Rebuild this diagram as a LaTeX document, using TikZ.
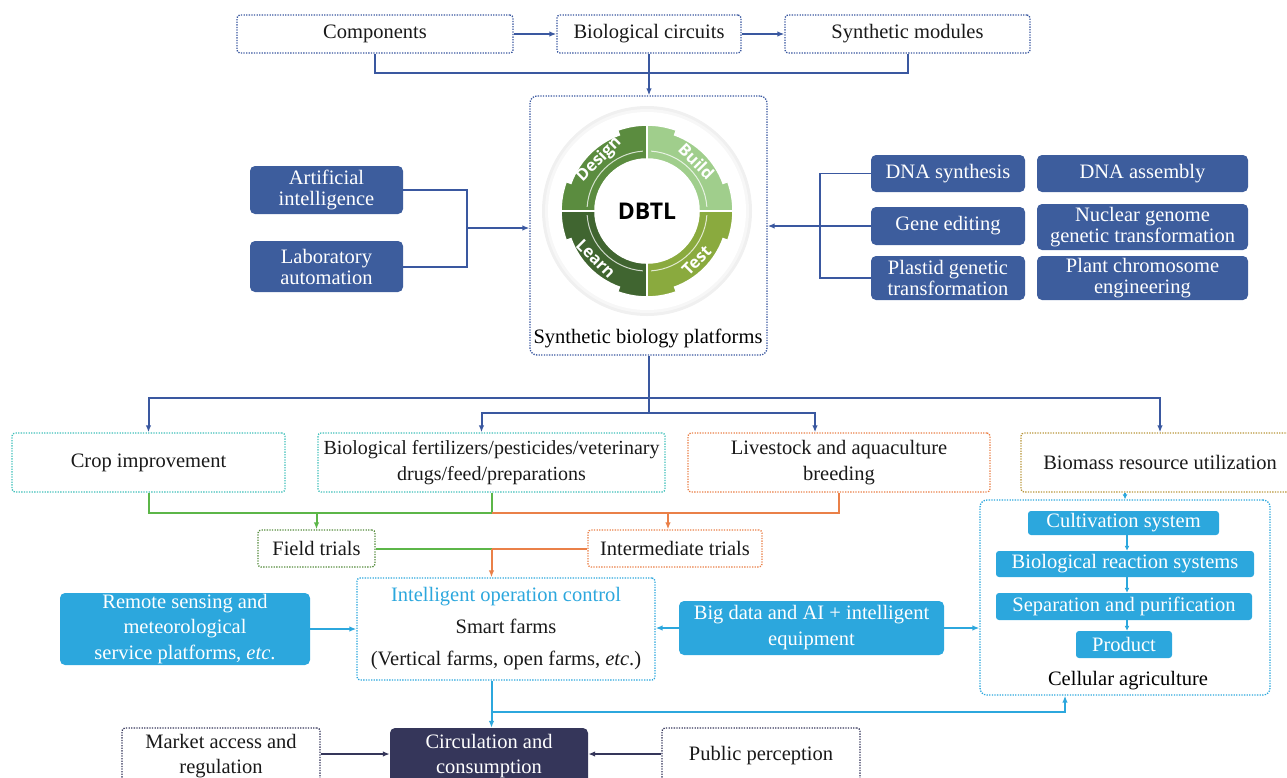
\documentclass[tikz,border=0pt]{standalone}
\usepackage{fontspec}
\setmainfont{Liberation Serif}
\setsansfont{Open Sans}
\usetikzlibrary{arrows.meta,calc}
\definecolor{lnblue}{RGB}{58,88,160}
\definecolor{fblue}{RGB}{61,93,157}
\definecolor{lblue}{RGB}{44,167,221}
\definecolor{cteal}{RGB}{64,192,186}
\definecolor{corange}{RGB}{234,128,72}
\definecolor{colive}{RGB}{184,150,60}
\definecolor{cgreen}{RGB}{92,182,72}
\definecolor{cfield}{RGB}{86,140,62}
\definecolor{cnavy}{RGB}{53,54,90}
\definecolor{dsg}{RGB}{91,140,63}
\definecolor{bdg}{RGB}{160,206,140}
\definecolor{lrn}{RGB}{64,101,48}
\definecolor{tst}{RGB}{138,170,62}
\definecolor{txt}{RGB}{25,25,25}
\tikzset{
  dbox/.style={draw=#1, line width=1.3pt, dash pattern=on 1.3pt off 1.3pt, rounded corners=3pt, text=txt, align=center, inner sep=0pt},
  fbox/.style={fill=#1, rounded corners=5pt, text=white, align=center, inner sep=0pt},
  ln/.style={draw=#1, line width=2pt},
  ar/.style={-{Latex[length=7pt,width=5.5pt]}},
  sar/.style={-{Latex[length=5pt,width=5pt]}},
  seglbl/.style={font=\sffamily\bfseries\fontsize{16.5}{16.5}\selectfont, text=white, inner sep=0pt},
  every node/.style={font=\fontsize{20.5}{22}\selectfont}
}
\newcommand{\dseg}[2]{%
  \fill[#2, draw=white, line width=1.6pt]
    ($(C)+(#1:52pt)$) -- ($(C)+(#1:86pt)$)
    arc[start angle=#1, end angle=#1+20, radius=86pt]
    -- ($(C)+(#1+20:81pt)$)
    arc[start angle=#1+20, end angle=#1+70, radius=81pt]
    -- ($(C)+(#1+70:86pt)$)
    arc[start angle=#1+70, end angle=#1+90, radius=86pt]
    -- ($(C)+(#1+90:52pt)$)
    arc[start angle=#1+90, end angle=#1, radius=52pt] -- cycle;
  \draw[white, opacity=0.75, line width=1pt] ($(C)+(#1+4:60pt)$) arc[start angle=#1+4, end angle=#1+86, radius=60pt];
}
\begin{document}
\begin{tikzpicture}[x=1pt,y=1pt]
\useasboundingbox (0,0) rectangle (1287,-777);
\clip (0,0) rectangle (1287,-777);

% ---------- top row ----------
\node[dbox=lnblue, minimum width=276pt, minimum height=38pt] (comp) at (375,-34) {Components};
\node[dbox=lnblue, minimum width=184pt, minimum height=38pt] (bc) at (649,-34) {Biological circuits};
\node[dbox=lnblue, minimum width=245pt, minimum height=38pt] (sm) at (907.5,-34) {Synthetic modules};

% ---------- platform ----------
\node[dbox=lnblue, rounded corners=7pt, minimum width=237pt, minimum height=259pt] (plat) at (648.5,-225.5) {};
\node (platlbl) at (648,-338) {Synthetic biology platforms};

\coordinate (C) at (647,-211);
\fill[black!6] (C) circle (105pt);
\fill[black!3] (C) circle (102pt);
\fill[white] (C) circle (99pt);
\dseg{0}{bdg}
\dseg{90}{dsg}
\dseg{180}{lrn}
\dseg{270}{tst}
\node[font=\sffamily\bfseries\fontsize{23}{23}\selectfont, text=black] (dbtl) at (C) {DBTL};
\node[seglbl, rotate=45] (ldes) at ($(C)+(133:70pt)$) {Design};
\node[seglbl, rotate=-45] (lbui) at ($(C)+(45:70pt)$) {Build};
\node[seglbl, rotate=-45] (llea) at ($(C)+(223:70pt)$) {Learn};
\node[seglbl, rotate=45] (ltes) at ($(C)+(315:70pt)$) {Test};

% ---------- left inputs ----------
\node[fbox=fblue, minimum width=153pt, minimum height=48pt, font=\fontsize{20.5}{21}\selectfont] (ai) at (326.5,-190) {Artificial\\intelligence};
\node[fbox=fblue, minimum width=153pt, minimum height=51pt, font=\fontsize{20.5}{21}\selectfont] (lab) at (326.5,-266.5) {Laboratory\\automation};

% ---------- right inputs ----------
\node[fbox=fblue, minimum width=154pt, minimum height=37pt] (dnas) at (948,-173.5) {DNA synthesis};
\node[fbox=fblue, minimum width=211pt, minimum height=37pt] (dnaa) at (1142.5,-173.5) {DNA assembly};
\node[fbox=fblue, minimum width=154pt, minimum height=38pt] (gene) at (948,-226) {Gene editing};
\node[fbox=fblue, minimum width=211pt, minimum height=46pt, font=\fontsize{20.5}{21}\selectfont] (nuc) at (1142.5,-227) {Nuclear genome\\genetic transformation};
\node[fbox=fblue, minimum width=154pt, minimum height=44pt, font=\fontsize{20.5}{21}\selectfont] (plas) at (948,-278) {Plastid genetic\\transformation};
\node[fbox=fblue, minimum width=211pt, minimum height=44pt, font=\fontsize{20.5}{21}\selectfont] (pce) at (1142.5,-278) {Plant chromosome\\engineering};

% ---------- application row ----------
\node[dbox=cteal, minimum width=273pt, minimum height=59pt] (crop) at (148.5,-462.5) {Crop improvement};
\node[dbox=cteal, minimum width=347pt, minimum height=59pt, font=\fontsize{20}{26}\selectfont] (bio) at (491.5,-462.5) {Biological fertilizers/pesticides/veterinary\\drugs/feed/preparations};
\node[dbox=corange, minimum width=302pt, minimum height=59pt, font=\fontsize{20.5}{26}\selectfont] (liv) at (839,-462.5) {Livestock and aquaculture\\breeding};
\node[dbox=colive, minimum width=278pt, minimum height=59pt] (biom) at (1160,-462.5) {Biomass resource utilization};

\node[dbox=cfield, minimum width=117pt, minimum height=37pt] (field) at (316.5,-548.5) {Field trials};
\node[dbox=corange, minimum width=174pt, minimum height=37pt] (inter) at (675,-548.5) {Intermediate trials};

% ---------- smart farms ----------
\node[dbox=lblue, minimum width=298pt, minimum height=102pt, font=\fontsize{20.5}{32}\selectfont] (smart) at (506,-629)
  {{\color{lblue}Intelligent operation control}\\Smart farms\\(Vertical farms, open farms, \textit{etc}.)};
\node[fbox=lblue, minimum width=250pt, minimum height=72pt, font=\fontsize{20.5}{25.5}\selectfont] (rem) at (185,-629)
  {Remote sensing and\\meteorological\\service platforms, \textit{etc}.};
\node[fbox=lblue, minimum width=265pt, minimum height=54pt, font=\fontsize{20.5}{26}\selectfont] (big) at (811.5,-628)
  {Big data and AI + intelligent\\equipment};

% ---------- cellular agriculture ----------
\node[dbox=lblue, rounded corners=7pt, minimum width=290pt, minimum height=195pt] (cell) at (1125,-597.5) {};
\node[fbox=lblue, rounded corners=3pt, minimum width=191pt, minimum height=24pt] (cult) at (1123.5,-523) {Cultivation system};
\node[fbox=lblue, rounded corners=3pt, minimum width=258pt, minimum height=26pt] (brs) at (1125,-564) {Biological reaction systems};
\node[fbox=lblue, rounded corners=3pt, minimum width=256pt, minimum height=27pt] (sep) at (1124,-606.5) {Separation and purification};
\node[fbox=lblue, rounded corners=3pt, minimum width=96pt, minimum height=27pt] (prod) at (1124,-644.5) {Product};
\node (celllbl) at (1128,-681) {Cellular agriculture};

% ---------- bottom ----------
\node[dbox=cnavy, minimum width=198pt, minimum height=56pt, font=\fontsize{20.5}{25}\selectfont] (mkt) at (221,-756) {Market access and\\regulation};
\node[fbox=cnavy, minimum width=198pt, minimum height=56pt, font=\fontsize{20.5}{25}\selectfont] (circ) at (489,-756) {Circulation and\\consumption};
\node[dbox=cnavy, minimum width=198pt, minimum height=56pt] (pub) at (761,-756) {Public perception};

% ---------- connectors: top ----------
\draw[ln=lnblue,ar] (comp.east) -- (bc.west);
\draw[ln=lnblue,ar] (bc.east) -- (sm.west);
\coordinate (jT) at (649,-73);
\draw[ln=lnblue] (comp.south) |- (jT) -| (sm.south);
\draw[ln=lnblue,ar] (bc.south) -- (bc.south |- plat.north);

% left / right inputs
\coordinate (jL) at (467,-228);
\draw[ln=lnblue] (ai.east) -| (jL) |- (lab.east);
\draw[ln=lnblue,ar] (jL) -- (jL -| plat.west);
\coordinate (jR) at (820,-226);
\draw[draw=lnblue, line width=1.6pt] (dnas.west) -| (jR) |- (plas.west);
\draw[draw=lnblue, line width=1.6pt,ar] (gene.west) -- (gene.west -| plat.east);

% platform to applications
\coordinate (jA) at ($(plat.south)+(0,-42)$);
\coordinate (jB) at ($(plat.south)+(0,-57)$);
\draw[ln=lnblue] (plat.south) -- (jB);
\draw[ln=lnblue,ar] (jA) -| (crop.north);
\draw[ln=lnblue,ar] (jA) -| (biom.north);
\draw[ln=lnblue,ar] (jB) -| ([xshift=-10pt]bio.north);
\draw[ln=lnblue,ar] (jB) -| ([xshift=-24pt]liv.north);

% green / orange
\coordinate (jG) at ($(bio.south)+(0,-20)$);
\draw[ln=cgreen] (crop.south) |- (jG) -- (bio.south);
\draw[ln=corange] (jG) -| (liv.south);
\draw[ln=cgreen,ar] (field.north |- jG) -- (field.north);
\coordinate (iT) at ([xshift=-7pt]inter.north);
\draw[ln=corange,ar] (iT |- jG) -- (iT);
\coordinate (jM) at (bio.south |- field.east);
\draw[ln=cgreen] (field.east) -- (jM);
\draw[ln=corange] (inter.west) -- (jM);
\draw[ln=corange,ar] (jM) -- (jM |- smart.north);

% light blue
\draw[ln=lblue,ar] (rem.east) -- (rem.east -| smart.west);
\draw[ln=lblue,ar] (big.west) -- (big.west -| smart.east);
\draw[ln=lblue,ar] (big.east) -- (big.east -| cell.west);
\draw[draw=lblue, line width=1.6pt,sar] (cell.north |- biom.south) -- (cell.north);
\draw[draw=lblue, line width=1.6pt,sar] (cult.south -| 1127,0) -- (brs.north -| 1127,0);
\draw[draw=lblue, line width=1.6pt,sar] (brs.south -| 1127,0) -- (sep.north -| 1127,0);
\draw[draw=lblue, line width=1.6pt,sar] (sep.south -| 1127,0) -- (prod.north -| 1127,0);
\coordinate (jS) at (jM |- 0,-712);
\draw[ln=lblue] (jM |- smart.south) -- (jS);
\draw[ln=lblue,ar] (jS) -| ([xshift=-60pt]cell.south);
\draw[ln=lblue,ar] (jS) -- (jS |- circ.north);

% navy
\draw[ln=cnavy,ar] ([yshift=2pt]mkt.east) -- ([yshift=2pt]circ.west);
\draw[ln=cnavy,ar] ([yshift=2pt]pub.west) -- ([yshift=2pt]circ.east);
\end{tikzpicture}
\end{document}
